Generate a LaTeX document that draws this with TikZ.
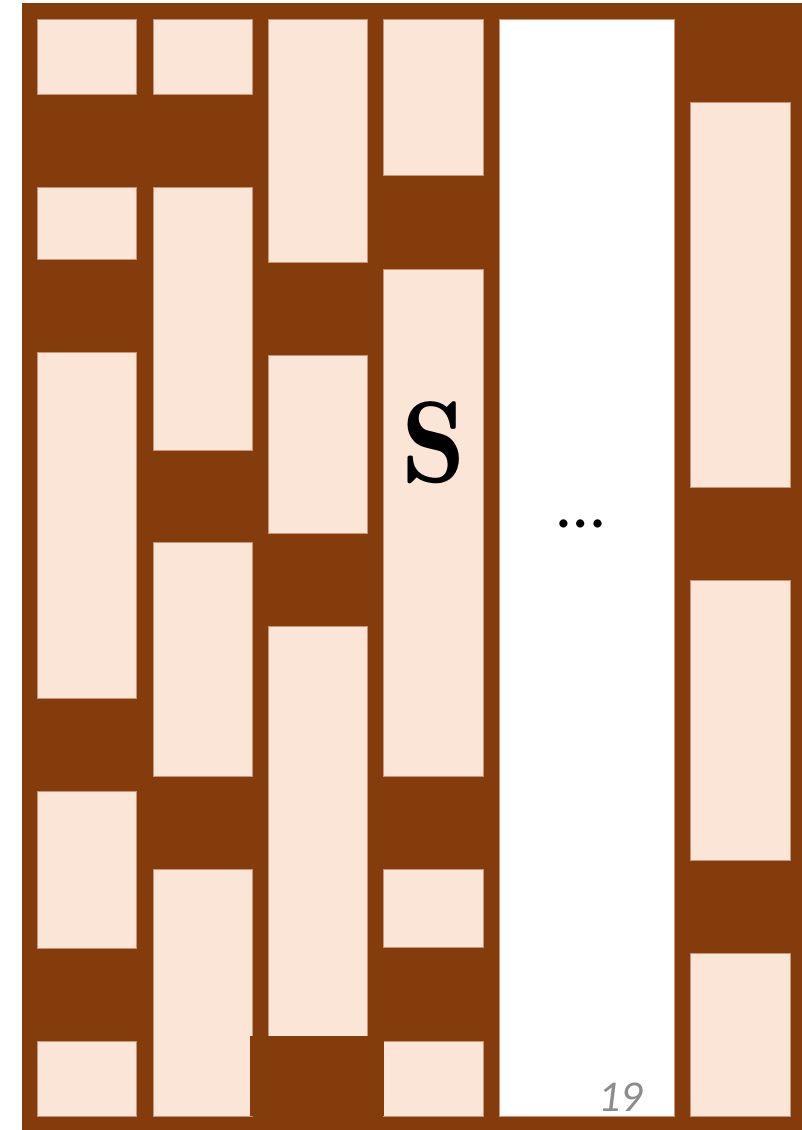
\documentclass[tikz,border=0pt]{standalone}
\usepackage{fontspec}
\newfontfamily\calfont{Carlito}
\definecolor{brick}{HTML}{843C0C}
\definecolor{light}{HTML}{FBE5D6}
\definecolor{edge}{HTML}{C8977A}
\definecolor{pagegray}{HTML}{8C8C8C}
\begin{document}
\begin{tikzpicture}[x=1pt,y=-1pt,
  stone/.style={fill=light,draw=edge,line width=0.6pt},
  gapcol/.style={fill=white,draw=edge,line width=0.6pt},
  mortar/.style={fill=brick,draw=none}]
\useasboundingbox (0,0) rectangle (802,1130);
% background
\fill[brick] (21.5,3) rectangle (802,1130);
% column 1
\foreach \a/\b in {19/94.3, 187.3/259.3, 352.3/698.3, 791/948.3, 1041/1116}
  \draw[stone] (37,\a) rectangle (136.7,\b);
% column 2
\foreach \a/\b in {19/94.3, 187.3/450, 542.7/776.3, 869.3/1116}
  \draw[stone] (153,\a) rectangle (252.3,\b);
% column 3
\foreach \a/\b in {19/262.3, 355.3/533.7, 626.7/1036}
  \draw[stone] (268.3,\a) rectangle (367.3,\b);
% column 4
\foreach \a/\b in {19/175.7, 269/776.3, 869.3/947.7, 1041/1116}
  \draw[stone] (383.5,\a) rectangle (482.8,\b);
% column 5 (open)
\draw[gapcol] (499,19) rectangle (674.7,1116);
% column 6
\foreach \a/\b in {102.3/487.3, 580.3/860.3, 953.3/1116}
  \draw[stone] (690.5,\a) rectangle (790,\b);
% mortar block overlapping column 2
\fill[mortar] (250,1036) rectangle (383.5,1116.3);
% labels
\node[inner sep=0pt] (s) at (434,443) {\fontsize{116}{116}\selectfont$\mathbf{S}$};
\node[inner sep=0pt,anchor=base] (dots) at (581,527) {\calfont\fontsize{68}{68}\selectfont …};
\node[inner sep=0pt,anchor=base east,text=pagegray] (pg) at (643,1111.7) {\calfont\itshape\fontsize{44}{44}\selectfont 19};
\end{tikzpicture}
\end{document}
